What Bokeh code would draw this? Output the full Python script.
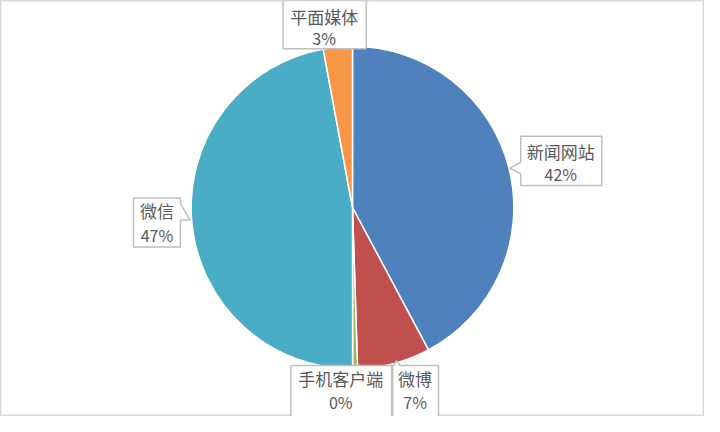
import math
from bokeh.plotting import figure
from bokeh.models import Range1d, ColumnDataSource
from bokeh.core.properties import value
from bokeh.embed import file_html
from bokeh.resources import INLINE

# ---- data ----
categories = ["新闻网站", "微博", "手机客户端", "微信", "平面媒体"]
shares = [42.2, 7.3, 0.49, 47.1, 2.91]
colors = ["#4F81BD", "#C0504D", "#9BBB59", "#4BACC6", "#F79646"]
pct_labels = [f"{round(v)}%" for v in shares]

# ---- layout (reference pixel coordinates, 720x432 mapped onto the figure) ----
W, H = 704, 416
def Y(py):
    return 432 - py

cx, cy, r = 360, Y(215), 165

p = figure(width=W, height=H, output_backend="svg", toolbar_location=None,
           x_range=Range1d(0, 720), y_range=Range1d(0, 432),
           min_border=0)
p.axis.visible = False
p.grid.visible = False
p.background_fill_color = "white"
p.border_fill_color = "white"
p.outline_line_color = "#D9D9D9"
p.outline_line_width = 2

total = sum(shares)
starts, ends = [], []
cum = 0.0
for v in shares:
    starts.append(math.pi / 2 - 2 * math.pi * cum / total)
    cum += v
    ends.append(math.pi / 2 - 2 * math.pi * cum / total)

src = ColumnDataSource(dict(cat=categories, start=starts, end=ends, color=colors))
p.wedge(x=cx, y=cy, radius=r, start_angle="start", end_angle="end",
        direction="clock", fill_color="color", line_color="white",
        line_width=1.5, source=src)

boxes = {
    "平面媒体": dict(box=(289, 0, 374, 50), tx=331, ty=(17, 39), ptr=None),
    "新闻网站": dict(box=(532, 141, 615, 192), tx=573, ty=(157, 180),
                 ptr=[(532, 168), (521, 174), (532, 180)]),
    "微信": dict(box=(136, 205, 184, 256), tx=160, ty=(218, 243),
               ptr=[(184, 211), (194, 228), (184, 228)]),
    "手机客户端": dict(box=(297, 379, 400, 436), tx=348, ty=(393, 417), ptr=None),
    "微博": dict(box=(401, 379, 448, 436), tx=424, ty=(393, 417),
               ptr=[(402, 379), (405, 374), (409, 379)]),
}

bxs, bys = [], []
for cat in categories:
    b = boxes[cat]
    l, t, rr, bt = b["box"]
    pts = [(l, t), (rr, t), (rr, bt), (l, bt)]
    ptr = b["ptr"]
    if ptr is not None:
        if ptr[0][0] == l and ptr[-1][0] == l:
            pts = [(l, t), (rr, t), (rr, bt), (l, bt)] + list(reversed(ptr))
        elif ptr[0][0] == rr:
            pts = [(l, t), (rr, t)] + ptr + [(rr, bt), (l, bt)]
        else:
            pts = [(l, t)] + ptr + [(rr, t), (rr, bt), (l, bt)]
    bxs.append([q[0] for q in pts])
    bys.append([Y(q[1]) for q in pts])

p.patches(xs=bxs, ys=bys, fill_color="white", line_color="#BFBFBF", line_width=1.5)

t1x, t1y, t2y = [], [], []
for cat in categories:
    b = boxes[cat]
    t1x.append(b["tx"])
    t1y.append(Y(b["ty"][0]))
    t2y.append(Y(b["ty"][1]))

p.text(x=t1x, y=t1y, text=categories, text_align="center", text_baseline="middle",
       text_font=value("Noto Sans CJK SC"), text_font_size="17px", text_color="#595959")
p.text(x=t1x, y=t2y, text=pct_labels, text_align="center", text_baseline="middle",
       text_font=value("Noto Sans CJK SC"), text_font_size="16px", text_color="#595959")

open("out.html", "w").write(file_html(p, INLINE))
